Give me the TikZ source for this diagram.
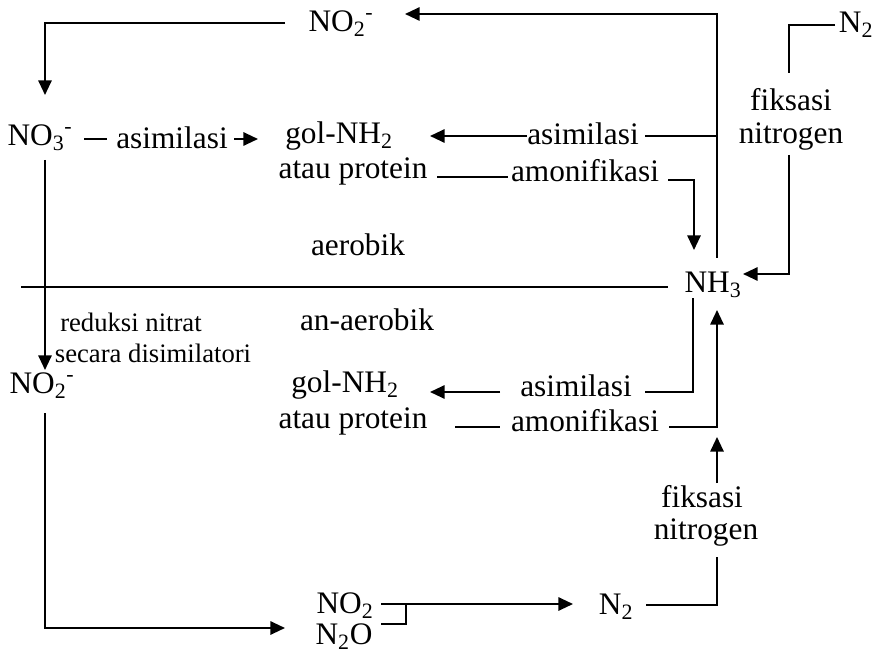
\documentclass[tikz,border=0pt]{standalone}
\usepackage{fontspec}
\setmainfont{Liberation Serif}
\usetikzlibrary{arrows.meta}
\begin{document}
\begin{tikzpicture}[x=0.75pt,y=-0.75pt,
  lbl/.style={inner sep=0pt,font=\fontsize{23.5}{28}\selectfont},
  sml/.style={inner sep=0pt,font=\fontsize{20}{24}\selectfont},
  ln/.style={line width=1.5pt},
  ar/.style={line width=1.5pt,-{Triangle[length=11pt,width=10pt]}}]
\useasboundingbox (0,0) rectangle (877,655);
% texts
\node[lbl] (no2top) at (341,24) {NO\textsubscript{2}\textsuperscript{-}};
\node[lbl] (no3) at (40,138) {NO\textsubscript{3}\textsuperscript{-}};
\node[lbl] (asimA) at (172,138) {asimilasi};
\node[lbl] (golA) at (339,136) {gol-NH\textsubscript{2}};
\node[lbl] (protA) at (353,171) {atau protein};
\node[lbl] (asimB) at (583,134) {asimilasi};
\node[lbl] (amonA) at (585,171) {amonifikasi};
\node[lbl] (fikA) at (791,100) {fiksasi};
\node[lbl] (nitA) at (791,137) {nitrogen};
\node[lbl] (n2top) at (856,25) {N\textsubscript{2}};
\node[lbl] (aer) at (358,245) {aerobik};
\node[lbl] (nh3) at (713,285) {NH\textsubscript{3}};
\node[lbl] (anaer) at (367,320) {an-aerobik};
\node[sml] (red1) at (131,322) {reduksi nitrat};
\node[sml] (red2) at (153,353) {secara disimilatori};
\node[lbl] (no2low) at (42,386) {NO\textsubscript{2}\textsuperscript{-}};
\node[lbl] (golB) at (345,385) {gol-NH\textsubscript{2}};
\node[lbl] (protB) at (353,421) {atau protein};
\node[lbl] (asimC) at (576,386) {asimilasi};
\node[lbl] (amonB) at (585,421) {amonifikasi};
\node[lbl] (fikB) at (702,497) {fiksasi};
\node[lbl] (nitB) at (706,533) {nitrogen};
\node[lbl] (no2g) at (345,606) {NO\textsubscript{2}};
\node[lbl] (n2o) at (344,637) {N\textsubscript{2}O};
\node[lbl] (n2low) at (616,607) {N\textsubscript{2}};
% coordinates
\coordinate (c1) at (285,23);
\coordinate (c2) at (45,95);
\coordinate (c3) at (717,258);
\coordinate (c4) at (717,14);
\coordinate (c5) at (405,14);
\coordinate (d1) at (84,139);
\coordinate (d2) at (107,139);
\coordinate (e1) at (234,139);
\coordinate (e2) at (258,139);
\coordinate (f1) at (717,136);
\coordinate (f2) at (645,136);
\coordinate (f3) at (527,136);
\coordinate (f4) at (430,136);
\coordinate (g1) at (437,177);
\coordinate (g2) at (508,177);
\coordinate (g3) at (668,180);
\coordinate (g4) at (694,250);
\coordinate (h1) at (835,25);
\coordinate (h2) at (789,73);
\coordinate (h3) at (789,155);
\coordinate (h4) at (743,274);
\coordinate (s1) at (21,287);
\coordinate (s2) at (668,287);
\coordinate (k1) at (45,160);
\coordinate (k2) at (45,370);
\coordinate (m1) at (45,413);
\coordinate (m2) at (285,628);
\coordinate (b1) at (381,604);
\coordinate (b2) at (406,604);
\coordinate (b3) at (381,624);
\coordinate (b4) at (406,624);
\coordinate (b5) at (573,604);
\coordinate (n1) at (646,605);
\coordinate (n2) at (717,557);
\coordinate (p1) at (717,483);
\coordinate (p2) at (717,437);
\coordinate (q1) at (455,427);
\coordinate (q2) at (500,427);
\coordinate (q3) at (669,427);
\coordinate (q4) at (717,310);
\coordinate (r1) at (500,392);
\coordinate (r2) at (430,392);
\coordinate (r3) at (645,392);
\coordinate (r4) at (693,298);
% connectors
\draw[ar] (c1) -| (c2);
\draw[ar] (c3) -- (c4) -- (c5);
\draw[ln] (d1) -- (d2);
\draw[ar] (e1) -- (e2);
\draw[ln] (f1) -- (f2);
\draw[ar] (f3) -- (f4);
\draw[ln] (g1) -- (g2);
\draw[ar] (g3) -| (g4);
\draw[ln] (h1) -| (h2);
\draw[ar] (h3) |- (h4);
\draw[ln] (s1) -- (s2);
\draw[ar] (k1) -- (k2);
\draw[ar] (m1) |- (m2);
\draw[ln] (b3) -- (b4);
\draw[ln] (b2) -- ([yshift=-0.75pt]b4);
\draw[ar] (b1) -- (b5);
\draw[ln] (n1) -| (n2);
\draw[ar] (p1) -- (p2);
\draw[ln] (q1) -- (q2);
\draw[ar] (q3) -| (q4);
\draw[ar] (r1) -- (r2);
\draw[ln] (r3) -| (r4);
\end{tikzpicture}
\end{document}
